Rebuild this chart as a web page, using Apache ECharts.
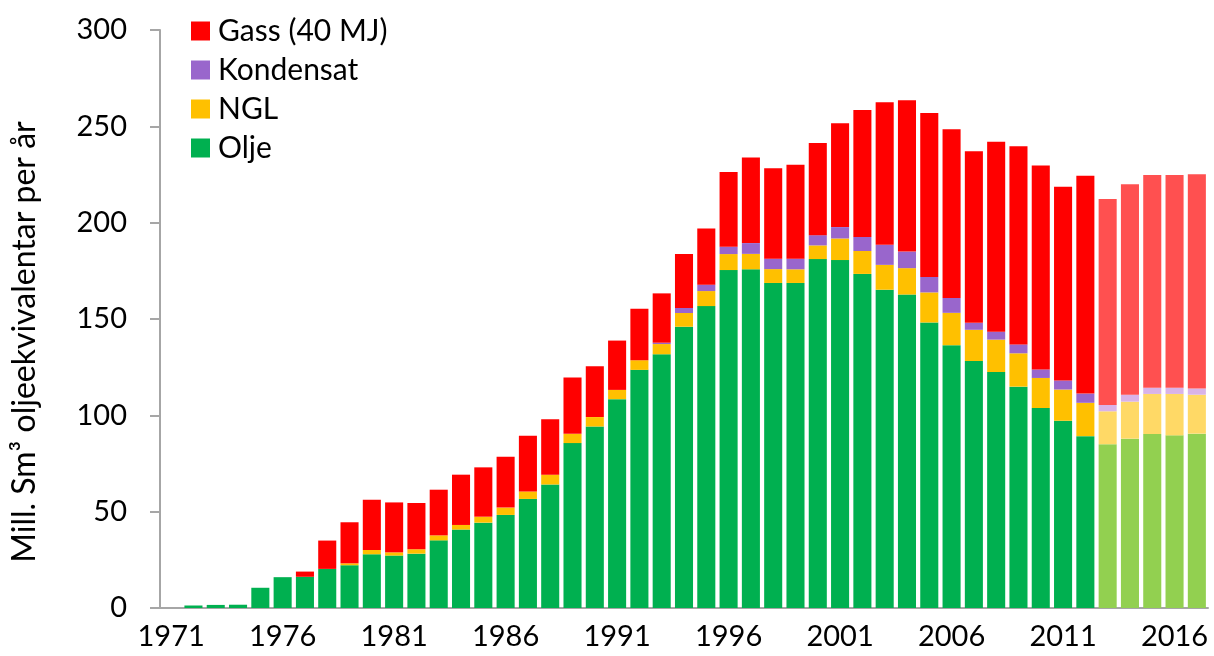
<!DOCTYPE html>
<html>
<head>
<meta charset="utf-8">
<title>Produksjon</title>
<script src="https://cdn.jsdelivr.net/npm/echarts@6/dist/echarts.min.js"></script>
<style>
  html, body { margin: 0; padding: 0; background: #fff; }
  #chart { width: 1214px; height: 656px; }
</style>
</head>
<body>
<div id="chart"></div>
<script>
var years = [];
for (var y = 1971; y <= 2017; y++) years.push(String(y));

// mill. Sm3 o.e. per år
var olje = [0, 1.3, 1.6, 1.7, 10.5, 16, 16.2, 20.3, 22.2, 27.9,
  27.2, 28.2, 35.1, 40.7, 44.3, 48.3, 56.6, 64.1, 85.6, 94.2,
  108.4, 123.6, 131.7, 146, 156.7, 175.4, 175.8, 168.7, 168.7, 181.1,
  180.6, 173.4, 165.2, 162.7, 148.2, 136.4, 128.2, 122.5, 114.9, 103.8,
  97.2, 89.2, 85, 87.9, 90.3, 89.6, 90.5];
var ngl = [0, 0, 0, 0, 0, 0, 0, 0, 1.0, 2.2,
  1.7, 2.3, 2.6, 2.4, 3.1, 3.8, 3.9, 5.1, 4.8, 4.9,
  4.8, 5.0, 5.3, 7.1, 7.8, 8.3, 8.0, 7.2, 7.1, 7.1,
  11.2, 11.9, 12.9, 13.7, 15.6, 16.8, 16.2, 16.8, 17.3, 15.6,
  16.2, 17.3, 17.1, 19.2, 20.8, 21.5, 20.2];
var kondensat = [0, 0, 0, 0, 0, 0, 0, 0, 0, 0,
  0, 0, 0, 0, 0, 0, 0, 0, 0, 0,
  0, 0, 0.7, 2.6, 3.3, 3.8, 5.6, 5.4, 5.5, 5.3,
  5.9, 7.3, 10.4, 8.6, 8.0, 7.7, 3.6, 4.1, 4.6, 4.4,
  4.7, 4.8, 3.3, 3.6, 3.2, 3.2, 3.2];
var gass = [0, 0, 0, 0, 0, 0, 2.7, 14.7, 21.3, 26.1,
  25.9, 24, 23.7, 26.1, 25.6, 26.4, 28.9, 28.8, 29.2, 26.4,
  25.6, 26.7, 25.6, 28, 29.2, 38.8, 44.4, 46.9, 48.7, 47.9,
  53.9, 65.9, 74, 78.6, 85.1, 87.6, 89.1, 98.6, 102.9, 105.9,
  100.5, 113.1, 106.9, 109.2, 110.4, 110.4, 111.2];

var firstPrognose = 2013; // lysare fargar frå og med dette året

var fargar = { 'Olje': '#00b050', 'NGL': '#ffc000', 'Kondensat': '#9966cc', 'Gass (40 MJ)': '#ff0000' };
var lyse = { 'Olje': '#92d050', 'NGL': '#ffd966', 'Kondensat': '#d9b3e8', 'Gass (40 MJ)': '#ff5050' };

function lagSerie(namn, verdiar) {
  var data = verdiar.map(function (v, i) {
    if (+years[i] >= firstPrognose) {
      return { value: v, itemStyle: { color: lyse[namn] } };
    }
    return v;
  });
  return {
    name: namn,
    type: 'bar',
    stack: 'total',
    barCategoryGap: '19%',
    itemStyle: { color: fargar[namn] },
    data: data
  };
}

var chart = echarts.init(document.getElementById('chart'));
var font = 'Lato, "Open Sans", sans-serif';

chart.setOption({
  animation: false,
  textStyle: { fontFamily: font },
  grid: { left: 160, right: 6, top: 30, bottom: 48 },
  legend: {
    orient: 'vertical',
    left: 186,
    top: 11,
    itemWidth: 19,
    itemHeight: 19,
    itemGap: 9,
    icon: 'rect',
    textStyle: { fontSize: 30, color: '#000', fontFamily: font, padding: [0, 0, 0, 3] },
    data: ['Gass (40 MJ)', 'Kondensat', 'NGL', 'Olje']
  },
  xAxis: {
    type: 'category',
    data: years,
    axisLine: { lineStyle: { color: '#a6a6a6', width: 2 } },
    axisTick: {
      length: 9,
      lineStyle: { color: '#a6a6a6', width: 2 },
      interval: function (index) { return index % 2 === 1; }
    },
    axisLabel: { interval: 4, fontSize: 29, color: '#000', margin: 14 }
  },
  yAxis: {
    type: 'value',
    min: 0,
    max: 300,
    interval: 50,
    name: 'Mill. Sm³ oljeekvivalentar per år',
    nameLocation: 'middle',
    nameGap: 119,
    nameTextStyle: { fontSize: 32, color: '#000', padding: [0, 46, 0, 0] },
    axisLine: { show: true, lineStyle: { color: '#a6a6a6', width: 2 } },
    axisTick: { show: true, length: 10, lineStyle: { color: '#a6a6a6', width: 2 } },
    splitLine: { show: false },
    axisLabel: { fontSize: 29, color: '#000', margin: 33 }
  },
  series: [
    lagSerie('Olje', olje),
    lagSerie('NGL', ngl),
    lagSerie('Kondensat', kondensat),
    lagSerie('Gass (40 MJ)', gass)
  ]
});
</script>
</body>
</html>
